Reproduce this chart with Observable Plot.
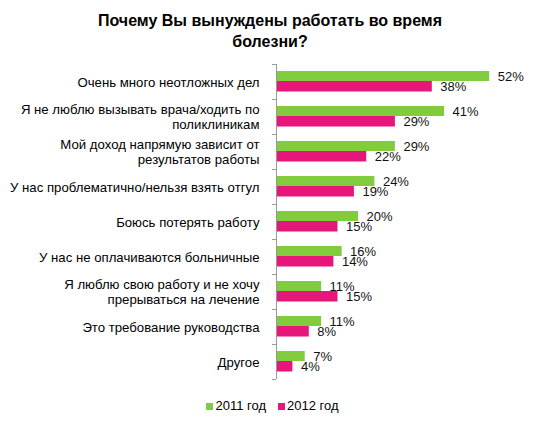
<!DOCTYPE html>
<html>
<head>
<meta charset="utf-8">
<script src="https://cdn.jsdelivr.net/npm/d3@7"></script>
<script src="https://cdn.jsdelivr.net/npm/@observablehq/plot@0.6"></script>
<style>
  html, body { margin: 0; padding: 0; background: #fff; }
  body { width: 540px; height: 426px; overflow: hidden; font-family: "Liberation Sans", Arial, sans-serif; color: #000; }
  #title { width: 540px; text-align: center; font-weight: bold; font-size: 16px; line-height: 21px; padding-top: 10px; height: 42px; }
  #legend { display: flex; justify-content: center; align-items: center; font-size: 13px; line-height: 16px; margin-top: 7px; padding-left: 5px; }
  .item { display: flex; align-items: center; margin: 0 6px; }
  .sw { width: 7px; height: 7px; margin-right: 2px; }
</style>
</head>
<body>
<div id="title">Почему Вы вынуждены работать во время<br>болезни?</div>
<div id="chart"></div>
<div id="legend"></div>
<script>
const categories = [
  "Очень много неотложных дел",
  "Я не люблю вызывать врача/ходить по\nполиклиникам",
  "Мой доход напрямую зависит от\nрезультатов работы",
  "У нас проблематично/нельзя взять отгул",
  "Боюсь потерять работу",
  "У нас не оплачиваются больничные",
  "Я люблю свою работу и не хочу\nпрерываться на лечение",
  "Это требование руководства",
  "Другое"
];
const values2011 = [52, 41, 29, 24, 20, 16, 11, 11, 7];
const values2012 = [38, 29, 22, 19, 15, 14, 15, 8, 4];
const seriesNames = ["2011 год", "2012 год"];
const colors = ["#80CC3C", "#E6167A"];

const d2011 = categories.map((c, i) => ({cat: c, value: values2011[i]}));
const d2012 = categories.map((c, i) => ({cat: c, value: values2012[i]}));

const chart = Plot.plot({
  width: 540,
  height: 339,
  marginTop: 12,
  marginBottom: 12,
  marginLeft: 276,
  marginRight: 18,
  style: {fontFamily: "'Liberation Sans', Arial, sans-serif", background: "#fff", color: "#000"},
  x: {domain: [0, 60], axis: null},
  y: {domain: categories, padding: 0, axis: null},
  marks: [
    Plot.barX(d2011, {x: "value", y: "cat", fill: colors[0], insetTop: 7, insetBottom: 18}),
    Plot.barX(d2012, {x: "value", y: "cat", fill: colors[1], insetTop: 17, insetBottom: 7.5}),
    Plot.ruleX([0], {stroke: "#999", strokeWidth: 1}),
    Plot.ruleY(categories, {y: d => d, x1: 0, x2: 0, insetLeft: -4, dy: -17.5, stroke: "#999"}),
    Plot.ruleY(categories.slice(-1), {y: d => d, x1: 0, x2: 0, insetLeft: -4, dy: 17.5, stroke: "#999"}),
    Plot.axisY({tickSize: 0, tickPadding: 17, fontSize: 13.2, lineHeight: 1.14, fill: "#000", textOverflow: null, label: null}),
    Plot.text(d2011, {x: "value", y: "cat", text: d => d.value + "%", dx: 8, dy: -5.5, textAnchor: "start", fontSize: 13, fill: "#111"}),
    Plot.text(d2012, {x: "value", y: "cat", text: d => d.value + "%", dx: 8, dy: 5, textAnchor: "start", fontSize: 13, fill: "#111"})
  ]
});
document.getElementById("chart").appendChild(chart);

const legend = document.getElementById("legend");
seriesNames.forEach((name, i) => {
  const item = document.createElement("div");
  item.className = "item";
  const sw = document.createElement("span");
  sw.className = "sw";
  sw.style.background = colors[i];
  const label = document.createElement("span");
  label.textContent = name;
  item.appendChild(sw);
  item.appendChild(label);
  legend.appendChild(item);
});
</script>
</body>
</html>
